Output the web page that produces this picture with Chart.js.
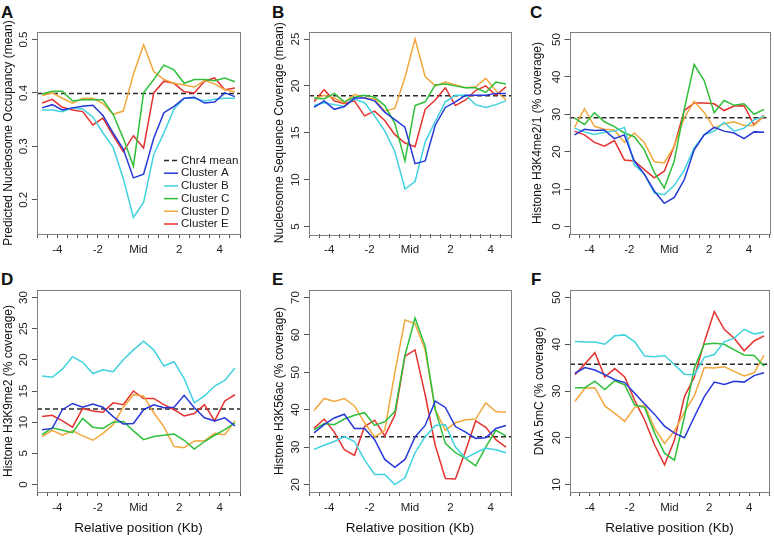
<!DOCTYPE html>
<html>
<head>
<meta charset="utf-8">
<script src="https://cdn.jsdelivr.net/npm/chart.js@4.4.1/dist/chart.umd.min.js"></script>
<style>
body { margin: 0; background: #fff; width: 774px; height: 536px; position: relative; overflow: hidden; font-family: "Liberation Sans", Arial, sans-serif; }
canvas { position: absolute; }
.tag { position: absolute; font-weight: bold; font-size: 17px; line-height: 1; color: #111; }
</style>
</head>
<body>
<div class="tag" style="left:1px;top:3.6px">A</div>
<div class="tag" style="left:272px;top:3.8px">B</div>
<div class="tag" style="left:530px;top:3.8px">C</div>
<div class="tag" style="left:1px;top:270.6px">D</div>
<div class="tag" style="left:272px;top:271px">E</div>
<div class="tag" style="left:531px;top:271px">F</div>
<canvas id="panelA" width="258" height="268" style="left:0;top:0"></canvas>
<canvas id="panelB" width="258" height="268" style="left:258px;top:0"></canvas>
<canvas id="panelC" width="258" height="268" style="left:516px;top:0"></canvas>
<canvas id="panelD" width="258" height="268" style="left:0;top:268px"></canvas>
<canvas id="panelE" width="258" height="268" style="left:258px;top:268px"></canvas>
<canvas id="panelF" width="258" height="268" style="left:516px;top:268px"></canvas>
<script>
// bin centres (kb from the middle)
const positions = [-4.75, -4.25, -3.75, -3.25, -2.75, -2.25, -1.75, -1.25, -0.75, -0.25,
                   0.25, 0.75, 1.25, 1.75, 2.25, 2.75, 3.25, 3.75, 4.25, 4.75];
const clusterNames = ['Cluster A', 'Cluster B', 'Cluster C', 'Cluster D', 'Cluster E'];
const clusterColors = ['#2638d8', '#3fd2df', '#2fbf3a', '#f2a73c', '#e4322f'];

// A: predicted nucleosome occupancy
const occA = [0.372, 0.378, 0.368, 0.372, 0.375, 0.377, 0.358, 0.325, 0.295, 0.241, 0.248, 0.315, 0.363, 0.375, 0.390, 0.392, 0.381, 0.383, 0.400, 0.393];
const occB = [0.368, 0.368, 0.365, 0.372, 0.370, 0.355, 0.325, 0.298, 0.240, 0.167, 0.195, 0.285, 0.325, 0.370, 0.390, 0.390, 0.385, 0.388, 0.390, 0.390];
const occC = [0.398, 0.403, 0.403, 0.385, 0.387, 0.387, 0.387, 0.360, 0.315, 0.263, 0.400, 0.425, 0.452, 0.443, 0.418, 0.425, 0.425, 0.423, 0.428, 0.421];
const occD = [0.395, 0.400, 0.390, 0.381, 0.390, 0.390, 0.380, 0.360, 0.366, 0.435, 0.490, 0.440, 0.425, 0.418, 0.415, 0.411, 0.423, 0.417, 0.406, 0.402];
const occE = [0.381, 0.388, 0.373, 0.368, 0.365, 0.340, 0.353, 0.320, 0.290, 0.320, 0.297, 0.400, 0.422, 0.418, 0.402, 0.400, 0.422, 0.428, 0.406, 0.409];

// B: nucleosome sequence coverage
const covA = [17.7, 18.4, 17.5, 17.8, 18.7, 18.7, 18.4, 17.2, 16.4, 15.6, 11.7, 12.0, 15.8, 17.7, 18.3, 19.0, 19.0, 19.0, 19.2, 19.2];
const covB = [17.9, 18.2, 18.0, 17.8, 18.6, 18.2, 16.8, 15.2, 13.0, 9.0, 9.8, 14.0, 16.2, 18.3, 19.0, 19.0, 18.0, 17.7, 18.0, 18.4];
const covC = [18.7, 18.6, 19.2, 18.3, 18.8, 19.0, 18.8, 17.9, 16.0, 12.0, 17.9, 18.3, 20.1, 20.2, 20.0, 19.8, 19.8, 19.3, 20.4, 20.2];
const covD = [18.6, 19.0, 18.7, 18.2, 19.1, 18.7, 18.6, 17.3, 17.6, 20.9, 25.0, 21.0, 20.0, 20.4, 20.1, 19.8, 19.9, 20.8, 19.5, 18.5];
const covE = [18.3, 19.6, 18.4, 18.1, 18.4, 16.8, 17.3, 16.3, 14.8, 13.9, 13.5, 17.5, 18.5, 19.8, 17.9, 18.5, 19.5, 20.0, 19.0, 19.9];

// C: H3K4me2/1
const k4A = [24.5, 26.0, 25.7, 25.8, 23.5, 24.5, 17.5, 14.0, 9.5, 6.2, 7.8, 12.5, 20.5, 24.5, 26.5, 25.5, 25.0, 23.5, 25.3, 25.2];
const k4B = [26.3, 25.3, 24.6, 25.2, 25.5, 26.5, 16.5, 14.0, 9.0, 8.5, 11.0, 15.0, 21.0, 24.5, 25.5, 27.8, 25.5, 26.3, 28.5, 29.5];
const k4C = [29.0, 27.3, 30.4, 28.0, 26.7, 25.0, 24.0, 20.5, 14.5, 10.3, 17.5, 31.3, 43.3, 39.0, 30.4, 33.7, 32.4, 32.8, 30.0, 31.3];
const k4D = [26.5, 31.5, 26.8, 26.0, 25.8, 22.5, 25.0, 22.5, 17.3, 17.0, 21.5, 29.0, 33.5, 30.5, 26.3, 27.5, 28.0, 27.0, 27.0, 29.5];
const k4E = [25.5, 24.5, 22.5, 21.5, 23.0, 17.8, 17.5, 15.2, 13.0, 14.8, 21.5, 31.0, 33.0, 33.0, 32.8, 31.0, 32.2, 32.3, 27.2, 29.7];

// D: H3K9me2
const k9A = [8.8, 9.0, 12.0, 13.0, 12.4, 12.9, 12.4, 10.9, 9.7, 9.8, 12.0, 12.8, 12.3, 12.4, 14.3, 12.3, 10.7, 10.2, 10.7, 9.4];
const k9B = [17.4, 17.2, 18.5, 20.5, 19.6, 17.8, 18.4, 18.1, 20.0, 21.6, 23.0, 21.6, 19.0, 19.7, 17.0, 13.1, 14.2, 15.8, 16.7, 18.7];
const k9C = [8.0, 9.1, 8.7, 8.3, 10.6, 9.2, 9.0, 10.0, 10.1, 8.6, 7.2, 7.7, 7.9, 8.1, 7.1, 5.7, 6.9, 7.9, 8.8, 9.9];
const k9D = [7.7, 8.7, 7.9, 8.6, 7.8, 7.1, 8.2, 9.6, 12.4, 14.4, 14.2, 11.5, 9.3, 6.1, 5.9, 7.0, 7.0, 8.2, 8.0, 10.2];
const k9E = [10.9, 11.1, 10.2, 9.2, 12.2, 11.8, 11.6, 13.1, 12.8, 15.0, 13.8, 13.8, 12.8, 12.0, 11.0, 11.4, 12.8, 10.2, 13.4, 14.4];

// E: H3K56ac
const k56A = [33.8, 36.0, 37.8, 38.8, 35.0, 35.0, 32.0, 26.7, 24.6, 26.7, 32.7, 35.8, 42.3, 40.6, 35.5, 34.0, 32.3, 32.5, 35.0, 35.8];
const k56B = [29.4, 30.5, 31.5, 32.8, 31.5, 26.6, 22.7, 22.7, 20.0, 21.8, 28.5, 32.8, 35.8, 36.0, 30.0, 27.0, 28.5, 29.7, 29.3, 28.5];
const k56C = [34.6, 36.3, 36.0, 37.5, 38.5, 39.2, 35.8, 36.8, 39.5, 54.5, 64.5, 57.0, 40.0, 31.0, 28.5, 27.0, 25.0, 30.0, 34.5, 33.0];
const k56D = [39.8, 43.0, 42.2, 43.0, 41.0, 36.5, 32.7, 34.5, 50.0, 64.0, 63.0, 56.0, 40.0, 34.5, 36.5, 37.3, 37.5, 41.8, 39.5, 39.3];
const k56E = [35.0, 37.5, 34.0, 29.3, 27.8, 35.5, 37.2, 33.0, 38.5, 54.3, 56.0, 44.0, 30.5, 21.6, 21.5, 29.0, 37.0, 35.3, 32.0, 30.0];

// F: DNA 5mC
const mcA = [33.8, 35.0, 34.5, 33.5, 32.4, 31.8, 29.5, 27.2, 25.0, 22.5, 21.0, 20.0, 24.5, 28.8, 31.9, 31.4, 32.1, 31.9, 33.3, 33.9];
const mcB = [40.6, 40.5, 40.5, 40.0, 41.8, 42.0, 40.5, 37.5, 37.3, 37.6, 35.6, 33.6, 33.5, 37.2, 37.8, 40.5, 41.3, 43.2, 42.2, 42.6];
const mcC = [30.7, 30.7, 32.1, 30.3, 32.2, 31.3, 27.0, 26.5, 21.0, 16.7, 15.2, 24.5, 35.0, 40.0, 40.2, 40.0, 38.8, 37.7, 37.6, 35.3];
const mcD = [27.8, 30.6, 30.7, 26.8, 25.2, 23.5, 26.5, 27.0, 22.0, 18.8, 21.5, 25.5, 29.0, 35.0, 34.9, 35.2, 34.2, 33.2, 33.9, 37.6];
const mcE = [33.5, 35.8, 38.2, 33.0, 34.8, 33.0, 28.0, 23.8, 18.5, 14.2, 19.5, 28.8, 33.0, 40.5, 47.0, 43.2, 41.3, 38.6, 40.7, 41.8];

// Chr4 genome means (dashed line), panels A-F
const chrMeans = [0.399, 18.95, 29.1, 12.1, 32.8, 35.7];

const FONT = '"Liberation Sans", Arial, sans-serif';
Chart.defaults.font.family = FONT;

const rFrame = {
    id: 'rFrame',
    afterDraw(chart) {
        const { ctx, chartArea: a } = chart;
        const y = chart.scales.y;
        ctx.save();
        ctx.strokeStyle = '#808080';
        ctx.lineWidth = 1;
        ctx.strokeRect(Math.round(a.left) + 0.5, Math.round(a.top) + 0.5,
            Math.round(a.right - a.left), Math.round(a.bottom - a.top));
        ctx.fillStyle = '#222';
        ctx.font = '11.5px ' + FONT;
        ctx.textAlign = 'center';
        ctx.textBaseline = 'middle';
        y.ticks.forEach((t) => {
            ctx.save();
            ctx.translate(a.left - 13, y.getPixelForValue(t.value));
            ctx.rotate(-Math.PI / 2);
            ctx.fillText(t.label, 0, 0);
            ctx.restore();
        });
        ctx.restore();
    }
};

const rLegend = {
    id: 'rLegend',
    afterDraw(chart, args, opts) {
        if (!opts.show) return;
        const { ctx, chartArea: a } = chart;
        const sets = chart.data.datasets;
        const order = [sets.length - 1, 0, 1, 2, 3, 4];
        ctx.save();
        ctx.font = '11.6px ' + FONT;
        ctx.textBaseline = 'middle';
        ctx.textAlign = 'left';
        order.forEach((k, row) => {
            const ds = sets[k];
            const yy = a.bottom - 73.5 + row * 12.7;
            ctx.strokeStyle = ds.borderColor;
            ctx.lineWidth = 1.5;
            ctx.setLineDash(ds.borderDash || []);
            ctx.beginPath();
            ctx.moveTo(a.right - 76, yy);
            ctx.lineTo(a.right - 62, yy);
            ctx.stroke();
            ctx.setLineDash([]);
            ctx.fillStyle = '#222';
            ctx.fillText(ds.label, a.right - 59, yy);
        });
        ctx.restore();
    }
};

function xLabel(v) {
    if (v === 0) return 'Mid';
    if (Math.abs(v) === 2 || Math.abs(v) === 4) return String(v);
    return '';
}

function createPanel(id, series, mean, cfg) {
    const datasets = series.map((vals, k) => ({
        label: clusterNames[k],
        data: positions.map((x, i) => ({ x: x, y: vals[i] })),
        borderColor: clusterColors[k],
        borderWidth: 1.5,
        pointRadius: 0,
        tension: 0,
        fill: false
    }));
    datasets.push({
        label: 'Chr4 mean',
        data: [{ x: -5, y: mean }, { x: 5, y: mean }],
        borderColor: '#2a2a2a',
        borderDash: [5, 3],
        borderWidth: 1.5,
        pointRadius: 0,
        fill: false
    });
    const tickGrid = { display: true, drawOnChartArea: false, drawTicks: true, color: '#555', lineWidth: 1 };
    new Chart(document.getElementById(id), {
        type: 'line',
        data: { datasets: datasets },
        options: {
            responsive: false,
            animation: false,
            events: [],
            layout: { padding: { left: 0, top: cfg.top, right: cfg.right, bottom: 0 } },
            plugins: {
                legend: { display: false },
                tooltip: { enabled: false },
                rLegend: { show: !!cfg.legend }
            },
            scales: {
                x: {
                    type: 'linear', min: -5, max: 5,
                    afterFit: (s) => { s.height = cfg.xh; },
                    ticks: {
                        stepSize: 0.5, autoSkip: false, maxRotation: 0, minRotation: 0,
                        padding: 5, color: '#222', font: { size: 11.5 }, callback: xLabel
                    },
                    grid: Object.assign({ tickLength: 4 }, tickGrid),
                    border: { display: false },
                    title: {
                        display: !!cfg.xTitle, text: 'Relative position (Kb)',
                        color: '#111', font: { size: 13.5 }, padding: 0
                    }
                },
                y: {
                    min: cfg.ymin, max: cfg.ymax,
                    afterFit: (s) => { s.width = cfg.yw; },
                    ticks: { display: false, stepSize: cfg.step, includeBounds: false },
                    grid: Object.assign({ tickLength: 5 }, tickGrid),
                    border: { display: false },
                    title: {
                        display: true, text: cfg.yTitle, color: '#111',
                        font: { size: 12 }, padding: { top: cfg.tpad, bottom: 0 }
                    }
                }
            }
        },
        plugins: [rFrame, rLegend]
    });
}

createPanel('panelA', [occA, occB, occC, occD, occE], chrMeans[0], {
    top: 32, right: 18, xh: 34, yw: 37, tpad: 1.8, ymin: 0.136, ymax: 0.514, step: 0.1,
    yTitle: 'Predicted Nucleosome Occupancy (mean)', legend: true
});
createPanel('panelB', [covA, covB, covC, covD, covE], chrMeans[1], {
    top: 31.5, right: 4, xh: 34, yw: 51, tpad: 14.5, ymin: 4.2, ymax: 25.8, step: 5,
    yTitle: 'Nucleosome Sequence Coverage (mean)'
});
createPanel('panelC', [k4A, k4B, k4C, k4D, k4E], chrMeans[2], {
    top: 32, right: 1.5, xh: 34, yw: 53.5, tpad: 14.5, ymin: -2, ymax: 52, step: 10,
    yTitle: 'Histone H3K4me2/1 (% coverage)'
});
createPanel('panelD', [k9A, k9B, k9C, k9D, k9E], chrMeans[3], {
    top: 22, right: 18, xh: 44, yw: 37, tpad: 1.1, ymin: -1.2, ymax: 31.2, step: 5,
    yTitle: 'Histone H3K9me2 (% coverage)', xTitle: true
});
createPanel('panelE', [k56A, k56B, k56C, k56D, k56E], chrMeans[4], {
    top: 22, right: 4, xh: 44, yw: 51, tpad: 14.5, ymin: 18, ymax: 72, step: 10,
    yTitle: 'Histone H3K56ac (% coverage)', xTitle: true
});
createPanel('panelF', [mcA, mcB, mcC, mcD, mcE], chrMeans[5], {
    top: 22, right: 1.5, xh: 44, yw: 54, tpad: 16, ymin: 8.4, ymax: 51.6, step: 10,
    yTitle: 'DNA 5mC (% coverage)', xTitle: true
});
</script>
</body>
</html>
